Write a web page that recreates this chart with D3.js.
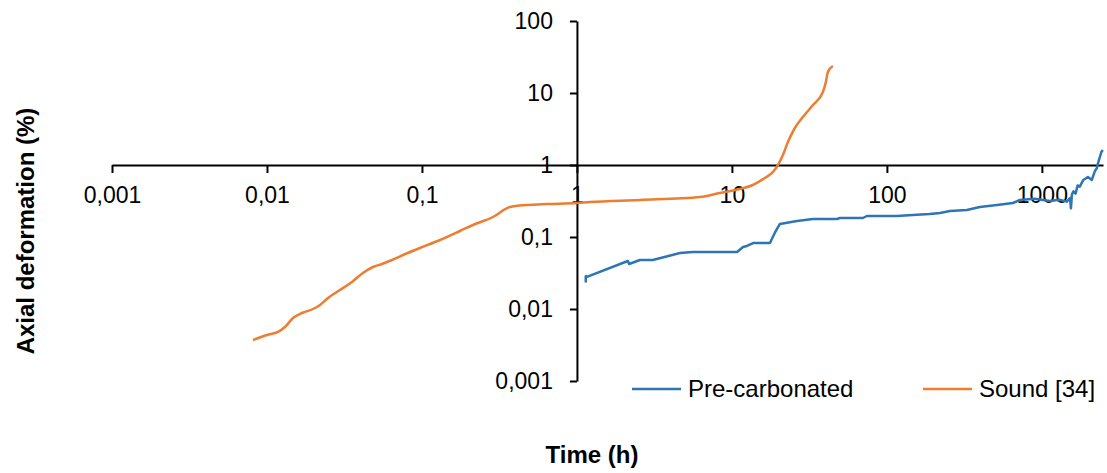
<!DOCTYPE html>
<html>
<head>
<meta charset="utf-8">
<script src="https://cdn.jsdelivr.net/npm/d3@7"></script>
<style>
  body { margin: 0; background: #fff; }
  text { font-family: "Liberation Sans", Arial, sans-serif; fill: #000; }
</style>
</head>
<body>
<svg id="chart"></svg>
<script>
// Chart size
const width = 1107;
const height = 473;

// Tick values and labels (comma decimals, as in the source)
const xTicks = [0.001, 0.01, 0.1, 1, 10, 100, 1000];
const xTickLabels = ["0,001", "0,01", "0,1", "1", "10", "100", "1000"];
const yTicks = [0.001, 0.01, 0.1, 1, 10, 100];
const yTickLabels = ["0,001", "0,01", "0,1", "1", "10", "100"];

// Series names
const seriesNames = ["Pre-carbonated", "Sound [34]"];

// Pre-carbonated: time (h) and axial deformation (%)
const preTime = [1.14, 1.14, 1.16, 2.13, 2.17, 2.55, 3.09, 4.62, 5.60, 10.8, 11.8, 12.5, 13.7, 17.6,
  18.9, 20.4, 26.3, 33.3, 47.6, 49.8, 70.0, 74.3, 116, 147, 189, 220, 255, 328, 398, 513, 650,
  721, 900, 1127, 1300, 1450, 1520, 1540, 1563, 1600, 1650, 1700, 1758, 1850, 1982, 2100, 2198,
  2265, 2300, 2367, 2420, 2475];
const preDef = [0.0234, 0.0285, 0.0280, 0.0464, 0.0422, 0.0479, 0.0479, 0.0600, 0.0619, 0.0619,
  0.0726, 0.0750, 0.0825, 0.0825, 0.1137, 0.1517, 0.1668, 0.1778, 0.1778, 0.1836, 0.1836, 0.1957,
  0.1957, 0.2021, 0.2086, 0.2154, 0.2297, 0.2371, 0.2610, 0.2783, 0.2965, 0.3266, 0.3400, 0.3162,
  0.3300, 0.3100, 0.3481, 0.2500, 0.3900, 0.4300, 0.4000, 0.5200, 0.5000, 0.6189, 0.6813, 0.6200,
  0.8200, 0.9085, 1.050, 1.292, 1.516, 1.616];

// Sound [34]: time (h) and axial deformation (%)
const soundTime = [0.00812, 0.0100, 0.01178, 0.01306, 0.01472, 0.01683, 0.01981, 0.02198, 0.02477,
  0.02958, 0.03534, 0.04159, 0.04828, 0.05520, 0.06403, 0.07537, 0.09704, 0.1306, 0.1758, 0.2134,
  0.2872, 0.3698, 0.4756, 0.6402, 1, 1.213, 2.549, 6.22, 8.37, 11.26, 13.65, 16.32, 18.40, 19.82,
  21.33, 22.98, 25.48, 28.70, 33.33, 38.64, 40.39, 41.6, 44.8];
const soundDef = [0.00371, 0.00435, 0.00480, 0.00562, 0.00750, 0.00880, 0.0100, 0.01137, 0.01422,
  0.01837, 0.02371, 0.0316, 0.0383, 0.0422, 0.0479, 0.0562, 0.0703, 0.0908, 0.1212, 0.1468, 0.1896,
  0.2610, 0.2783, 0.2873, 0.2965, 0.3062, 0.3266, 0.3594, 0.4084, 0.4642, 0.5275, 0.6596, 0.7994,
  1, 1.377, 2.086, 3.265, 4.642, 6.81, 10.33, 14.22, 19.6, 23.7];

const colors = ["#2E75B6", "#ED7D31"];

const svg = d3.select("#chart")
    .attr("width", width)
    .attr("height", height);

// Log scales
const x = d3.scaleLog().domain([0.001, 2480]).range([112, 1103]);
const y = d3.scaleLog().domain([0.001, 100]).range([381, 21]);

// X axis crosses at y = 1
const xAxis = svg.append("g")
    .attr("transform", `translate(0,${y(1)})`)
    .call(d3.axisBottom(x)
        .tickValues(xTicks)
        .tickFormat((d, i) => xTickLabels[i])
        .tickSize(8)
        .tickSizeOuter(0)
        .tickPadding(14));

// Y axis crosses at x = 1
const yAxis = svg.append("g")
    .attr("transform", `translate(${x(1)},0)`)
    .call(d3.axisLeft(y)
        .tickValues(yTicks)
        .tickFormat((d, i) => yTickLabels[i])
        .tickSize(7)
        .tickSizeOuter(0)
        .tickPadding(17));

[xAxis, yAxis].forEach(g => {
    g.select(".domain").attr("stroke", "#000").attr("stroke-width", 2);
    g.selectAll(".tick line").attr("stroke", "#000").attr("stroke-width", 2);
    g.selectAll(".tick text")
        .attr("font-family", "'Liberation Sans', Arial, sans-serif")
        .attr("font-size", 23)
        .attr("fill", "#000");
});

// Lines
const line = d3.line()
    .x(d => x(d[0]))
    .y(d => y(d[1]));

const preData = preTime.map((t, i) => [t, preDef[i]]);
const soundData = soundTime.map((t, i) => [t, soundDef[i]]);

svg.append("path")
    .datum(soundData)
    .attr("fill", "none")
    .attr("stroke", colors[1])
    .attr("stroke-width", 2.5)
    .attr("stroke-linejoin", "round")
    .attr("d", line.curve(d3.curveMonotoneX));

svg.append("path")
    .datum(preData)
    .attr("fill", "none")
    .attr("stroke", colors[0])
    .attr("stroke-width", 2.5)
    .attr("stroke-linejoin", "round")
    .attr("d", line.curve(d3.curveLinear));

// Legend
const legendItems = [
    { name: seriesNames[0], color: colors[0], x: 632 },
    { name: seriesNames[1], color: colors[1], x: 923 }
];
const legend = svg.append("g");
legendItems.forEach(item => {
    legend.append("line")
        .attr("x1", item.x).attr("x2", item.x + 49)
        .attr("y1", 389).attr("y2", 389)
        .attr("stroke", item.color)
        .attr("stroke-width", 2.5);
    legend.append("text")
        .attr("x", item.x + 56)
        .attr("y", 397)
        .attr("font-size", 24)
        .text(item.name);
});

// Axis titles
svg.append("text")
    .attr("x", 592)
    .attr("y", 463)
    .attr("text-anchor", "middle")
    .attr("font-size", 24)
    .attr("font-weight", "bold")
    .text("Time (h)");

svg.append("text")
    .attr("transform", `translate(34,231) rotate(-90)`)
    .attr("text-anchor", "middle")
    .attr("font-size", 24)
    .attr("font-weight", "bold")
    .text("Axial deformation (%)");
</script>
</body>
</html>
